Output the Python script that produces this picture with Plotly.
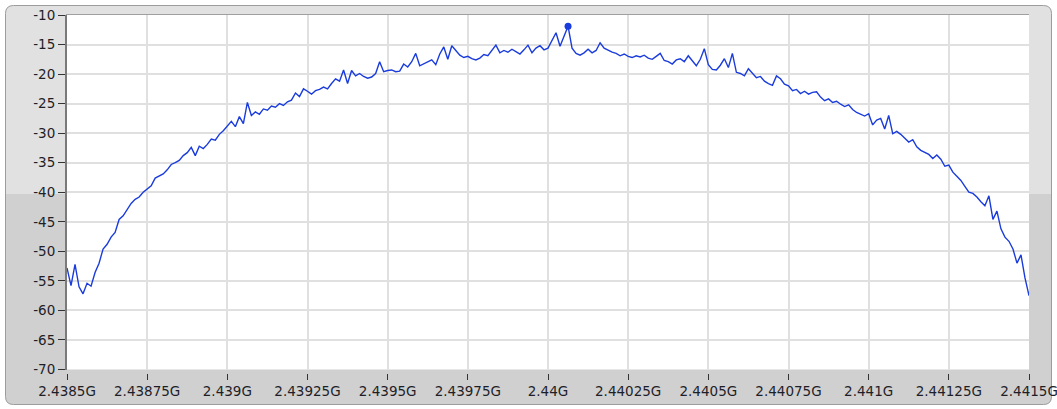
import numpy as np
import plotly.graph_objects as go

# ---------------- data ----------------
sweep_start_hz = 2438.5e6
sweep_step_hz = 12.5e3

level_db = [
    -52.8, -55.8, -52.2, -56.0, -57.2, -55.4, -55.9, -53.6, -52.0, -49.6,
    -48.8, -47.6, -46.8, -44.6, -44.0, -43.0, -41.9, -41.2, -40.8, -40.0,
    -39.5, -38.9, -37.6, -37.2, -36.9, -36.2, -35.3, -35.0, -34.6, -33.8,
    -33.3, -32.4, -33.8, -32.2, -32.6, -31.9, -31.0, -31.2, -30.2, -29.6,
    -28.8,
    -28.0, -28.9, -27.2, -28.4, -24.8, -27.0, -26.4, -26.8, -25.9, -26.1,
    -25.4, -25.6, -25.0, -25.3, -24.7, -24.4, -23.2, -23.8, -22.5, -22.9,
    -23.4, -22.8, -22.6, -22.2, -22.5, -21.6, -20.8, -21.2, -19.3, -21.6,
    -19.4, -20.3, -19.9, -20.4, -20.7, -20.5, -19.9, -17.9, -19.6, -19.4,
    -19.3, -19.6, -19.5, -18.3, -18.8, -17.9, -16.5, -18.6, -18.3, -18.0,
    -17.6, -18.4, -16.6, -15.4, -17.5, -15.2, -16.0, -16.8, -17.2, -17.0,
    -17.4, -17.6, -17.3, -16.7, -16.9, -16.0, -15.1, -16.4, -16.0, -16.3,
    -15.8, -16.2, -16.6, -15.9, -15.1, -16.4, -15.6, -15.2, -15.9, -15.6,
    -14.4, -13.0, -15.3, -13.6, -11.9, -15.6, -16.5, -16.8, -16.4, -15.8,
    -16.4, -16.0, -14.7, -15.6, -16.0, -16.3, -16.5, -16.9, -16.6, -17.0,
    -17.2, -16.9, -17.1, -16.8, -17.3, -17.5, -17.0, -16.5, -17.7, -17.9,
    -18.3, -17.6, -17.4, -17.9, -16.9, -17.8, -18.6, -17.5, -15.7, -18.4,
    -19.2, -19.3, -18.5, -17.4, -18.9, -16.5, -19.7, -19.9, -20.3, -19.1,
    -19.8, -20.6, -20.4, -21.2, -21.6, -21.9, -20.3, -20.8, -21.7, -22.0,
    -22.8, -22.6, -23.3, -22.9, -23.4, -23.1, -23.0, -23.9, -24.5, -24.2,
    -24.8, -24.6, -25.1, -25.5, -25.2, -26.0, -26.5, -26.8, -27.1, -26.7,
    -28.6, -27.8, -27.5, -29.3, -27.0, -30.1, -29.7, -30.2, -30.8, -31.5,
    -31.1, -32.3, -32.9, -33.2, -33.6, -34.3, -33.7, -34.4, -35.6, -35.4,
    -36.6, -37.3, -38.0, -39.0, -40.0, -40.2, -40.8, -41.6, -42.3, -40.6,
    -44.6, -43.2, -46.2, -47.6, -48.3, -49.6, -52.0, -50.6, -54.5, -57.5,
]

x_tick_hz = [2438500000, 2438750000, 2439000000, 2439250000, 2439500000,
             2439750000, 2440000000, 2440250000, 2440500000, 2440750000,
             2441000000, 2441250000, 2441500000]
x_tick_text = ["2.4385G", "2.43875G", "2.439G", "2.43925G", "2.4395G",
               "2.43975G", "2.44G", "2.44025G", "2.4405G", "2.44075G",
               "2.441G", "2.44125G", "2.4415G"]
y_tick_vals = [-70, -65, -60, -55, -50, -45, -40, -35, -30, -25, -20, -15, -10]
y_tick_text = ["-70", "-65", "-60", "-55", "-50", "-45", "-40", "-35", "-30",
               "-25", "-20", "-15", "-10"]

freq_hz = sweep_start_hz + sweep_step_hz * np.arange(len(level_db))
peak_idx = int(np.argmax(level_db))

# ---------------- layout geometry (pixels) ----------------
W, H = 1057, 409
ML, MR, MT, MB = 67, 28, 15, 36
PW, PH = W - ML - MR, H - MT - MB
PLOT_BOTTOM_PX = 369.5
SPLIT_Y = 194


def px(x):
    return (x - ML) / PW


def py(y):
    return (H - MB - y) / PH


def rounded_sub(x0, y0, x1, y1, r, top=True, bottom=True):
    X0, X1 = px(x0), px(x1)
    Y0, Y1 = py(y0), py(y1)
    rx, ry = r / PW, r / PH
    p = []
    if top:
        p.append(f"M {X0} {Y0 - ry}")
        p.append(f"Q {X0} {Y0} {X0 + rx} {Y0}")
        p.append(f"L {X1 - rx} {Y0}")
        p.append(f"Q {X1} {Y0} {X1} {Y0 - ry}")
    else:
        p.append(f"M {X0} {Y0}")
        p.append(f"L {X1} {Y0}")
    if bottom:
        p.append(f"L {X1} {Y1 + ry}")
        p.append(f"Q {X1} {Y1} {X1 - rx} {Y1}")
        p.append(f"L {X0 + rx} {Y1}")
        p.append(f"Q {X0} {Y1} {X0} {Y1 + ry}")
    else:
        p.append(f"L {X1} {Y1}")
        p.append(f"L {X0} {Y1}")
    p.append("Z")
    return " ".join(p)


def hole(x0, y0, x1, y1):
    # counter-wound rectangle -> hole under nonzero fill rule
    X0, X1 = px(x0), px(x1)
    Y0, Y1 = py(y0), py(y1)
    return f"M {X0} {Y0} L {X0} {Y1} L {X1} {Y1} L {X1} {Y0} Z"


plot_top, plot_left, plot_right = 15, 67, 1029

shapes = [
    dict(type="path", xref="paper", yref="paper", layer="below",
         path=rounded_sub(5.5, 5.5, 1051.5, SPLIT_Y, 8, bottom=False) + " "
         + hole(plot_left, plot_top, plot_right, SPLIT_Y),
         fillcolor="#e1e1e1", line=dict(width=0)),
    dict(type="path", xref="paper", yref="paper", layer="below",
         path=rounded_sub(5.5, SPLIT_Y, 1051.5, 404.5, 8, top=False) + " "
         + hole(plot_left, SPLIT_Y, plot_right, PLOT_BOTTOM_PX),
         fillcolor="#d0d0d0", line=dict(width=0)),
    dict(type="path", xref="paper", yref="paper", layer="below",
         path=rounded_sub(5.5, 5.5, 1051.5, 404.5, 8),
         fillcolor="rgba(0,0,0,0)", line=dict(color="#9c9c9c", width=1)),
    dict(type="line", xref="paper", yref="paper", layer="below",
         x0=px(66), x1=px(1029), y0=py(14.5), y1=py(14.5),
         line=dict(color="#a0a0a0", width=1)),
]

blue = "#1a3cdc"
fig = go.Figure()
fig.add_trace(go.Scatter(x=freq_hz, y=level_db, mode="lines",
                         line=dict(color=blue, width=1.4),
                         hoverinfo="skip", showlegend=False))
fig.add_trace(go.Scatter(x=[freq_hz[peak_idx]], y=[level_db[peak_idx]],
                         mode="markers", marker=dict(color=blue, size=7),
                         hoverinfo="skip", showlegend=False))

font = dict(family="DejaVu Sans", size=13.5, color="#1e1e28")
fig.update_layout(
    width=W, height=H,
    margin=dict(l=ML, r=MR, t=MT, b=MB, pad=0, autoexpand=False),
    paper_bgcolor="white", plot_bgcolor="white",
    font=font, shapes=shapes, showlegend=False,
    xaxis=dict(range=[2438.5e6, 2441.5e6], tickvals=x_tick_hz,
               ticktext=x_tick_text, ticks="outside", ticklen=6,
               tickcolor="#333333", tickwidth=1, showgrid=True,
               gridcolor="#e0e0e0", gridwidth=2, zeroline=False,
               showline=False, anchor="free", position=0, fixedrange=True,
               automargin=False, ticklabeloverflow="allow"),
    yaxis=dict(range=[-70, -10], tickvals=y_tick_vals, ticktext=y_tick_text,
               domain=[(H - MB - PLOT_BOTTOM_PX) / PH, 1],
               ticks="outside", ticklen=7, tickcolor="#333333", tickwidth=1,
               showgrid=True, gridcolor="#e0e0e0", gridwidth=2,
               zeroline=False, showline=True, linecolor="#7a7a7a",
               linewidth=2, fixedrange=True, automargin=False,
               ticklabeloverflow="allow"),
)

fig.write_html(
    "out.html",
    config={"displayModeBar": False},
    post_script="document.body.style.margin='0';document.body.style.overflow='hidden';",
)
